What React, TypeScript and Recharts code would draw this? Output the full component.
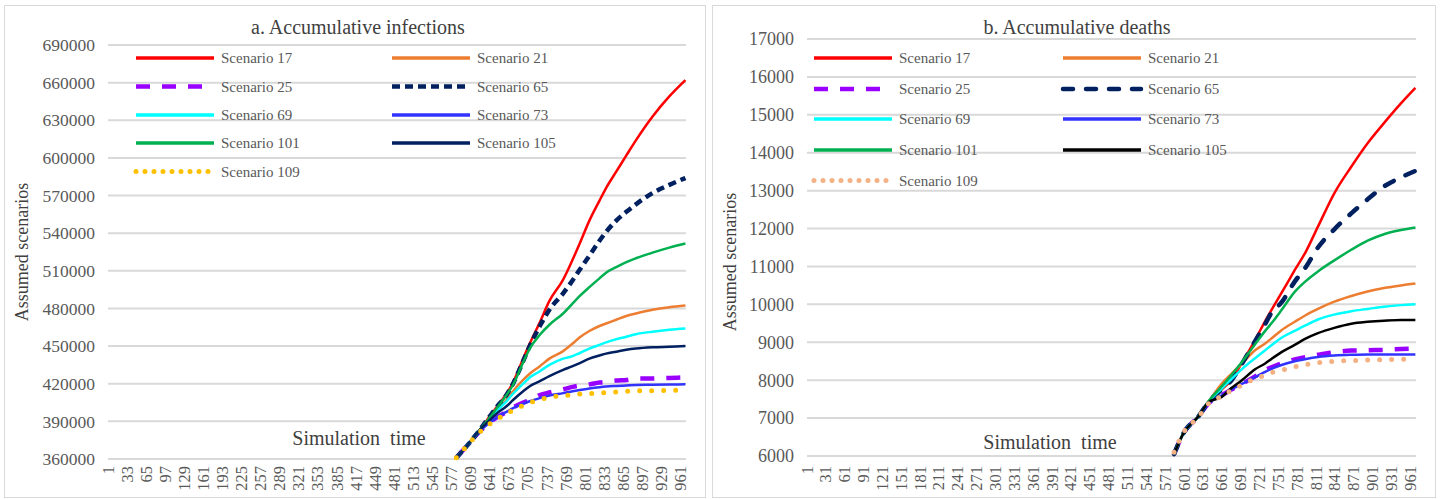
import React from 'react';
import { LineChart, Line, XAxis, YAxis, CartesianGrid } from 'recharts';

// ---------- Data: a. Accumulative infections ----------
const infTime = [585, 600, 624, 641, 652, 669, 680, 697, 708, 725, 741, 764, 780, 792, 808, 825, 836, 853, 870, 886, 914, 942, 969];
const inf17 = [361000, 369000, 383000, 394000, 401000, 412000, 421000, 440000, 452000, 469000, 486000, 503000, 519000, 532000, 550000, 566000, 576000, 589000, 602000, 614000, 633000, 649000, 662000];
const inf21 = [361000, 369000, 383000, 392000, 398000, 407000, 414000, 423000, 428000, 434000, 440000, 446000, 452000, 457000, 462000, 466000, 468000, 471000, 474000, 476000, 479000, 481000, 482300];
const inf25 = [361000, 369000, 382000, 389000, 393000, 397500, 401000, 405000, 407000, 411000, 413000, 415500, 417500, 418500, 419500, 421000, 421500, 422500, 423000, 424000, 424200, 424600, 425000];
const inf65 = [361000, 369000, 383000, 394000, 401000, 411000, 420000, 438000, 450000, 466000, 479000, 492000, 502500, 511000, 522000, 534000, 541000, 550000, 557000, 563000, 572000, 578500, 584000];
const inf69 = [361000, 369000, 383000, 392000, 398000, 406000, 412000, 420000, 425000, 430000, 435000, 440000, 442000, 444500, 448000, 451000, 453000, 455500, 457500, 459500, 461500, 463000, 464000];
const inf73 = [361000, 369000, 382000, 389000, 393000, 397500, 400500, 404000, 406000, 408500, 410500, 412500, 414000, 415000, 416200, 417200, 417700, 418200, 418600, 419000, 419200, 419400, 419500];
const inf101 = [361000, 369000, 383000, 393000, 400000, 411000, 419000, 437000, 448000, 459000, 467000, 476000, 484000, 490000, 497000, 504000, 508500, 513000, 517000, 520000, 524500, 528500, 531800];
const inf105 = [361000, 369000, 383000, 391000, 396000, 402000, 407000, 414000, 418000, 422000, 426000, 431000, 434000, 436500, 440000, 442500, 444000, 445500, 447000, 448000, 449000, 449500, 450000];
const inf109 = [361000, 369000, 381400, 388000, 391500, 396000, 399000, 402700, 405000, 407200, 409400, 410500, 411300, 411800, 412200, 412600, 413000, 413500, 414000, 414300, 414500, 414700, 414800];
const infYTicks = [360000, 390000, 420000, 450000, 480000, 510000, 540000, 570000, 600000, 630000, 660000, 690000];
const infXTicks = [1, 33, 65, 97, 129, 161, 193, 225, 257, 289, 321, 353, 385, 417, 449, 481, 513, 545, 577, 609, 641, 673, 705, 737, 769, 801, 833, 865, 897, 929, 961];

// ---------- Data: b. Accumulative deaths ----------
const detTime = [585, 600, 624, 640, 661, 677, 693, 714, 730, 740, 756, 777, 795, 814, 840, 867, 893, 919, 946, 969];
const det17 = [6050, 6600, 7050, 7420, 7760, 8020, 8460, 9060, 9560, 9850, 10300, 10900, 11400, 12050, 12930, 13630, 14250, 14780, 15300, 15710];
const det21 = [6050, 6600, 7050, 7430, 7910, 8180, 8440, 8790, 8970, 9100, 9320, 9540, 9720, 9880, 10070, 10220, 10340, 10430, 10500, 10550];
const det25 = [6050, 6600, 7050, 7390, 7600, 7760, 7900, 8100, 8270, 8340, 8440, 8550, 8610, 8670, 8740, 8780, 8790, 8800, 8820, 8830];
const det65 = [6050, 6600, 7050, 7420, 7760, 8010, 8430, 9030, 9480, 9780, 10050, 10600, 10990, 11500, 11980, 12400, 12770, 13110, 13350, 13520];
const det69 = [6050, 6600, 7050, 7430, 7780, 8040, 8290, 8580, 8790, 8920, 9120, 9300, 9450, 9600, 9730, 9820, 9880, 9940, 9980, 10000];
const det73 = [6050, 6600, 7050, 7390, 7600, 7760, 7900, 8080, 8220, 8300, 8400, 8500, 8560, 8610, 8650, 8670, 8680, 8680, 8680, 8680];
const det101 = [6050, 6600, 7050, 7450, 7840, 8150, 8480, 8950, 9300, 9500, 9850, 10330, 10620, 10870, 11160, 11440, 11680, 11850, 11960, 12030];
const det105 = [6050, 6600, 7050, 7420, 7560, 7800, 8000, 8290, 8440, 8560, 8740, 8930, 9100, 9240, 9380, 9490, 9540, 9570, 9585, 9590];
const det109 = [6100, 6620, 7030, 7380, 7580, 7740, 7870, 8040, 8130, 8200, 8260, 8350, 8410, 8460, 8500, 8515, 8530, 8540, 8550, 8555];
const detYTicks = [6000, 7000, 8000, 9000, 10000, 11000, 12000, 13000, 14000, 15000, 16000, 17000];
const detXTicks = [1, 31, 61, 91, 121, 151, 181, 211, 241, 271, 301, 331, 361, 391, 421, 451, 481, 511, 541, 571, 601, 631, 661, 691, 721, 751, 781, 811, 841, 871, 901, 931, 961];

const seriesNames = ['Scenario 17', 'Scenario 21', 'Scenario 25', 'Scenario 65', 'Scenario 69', 'Scenario 73', 'Scenario 101', 'Scenario 105', 'Scenario 109'];

type Style = { color: string; width: number; dash?: string; cap?: 'butt' | 'round' };

const infStyles: Style[] = [
  { color: '#ff0000', width: 2.5 },
  { color: '#ed7d31', width: 2.5 },
  { color: '#9900ff', width: 4.5, dash: '14 12', cap: 'butt' },
  { color: '#002060', width: 4.5, dash: '8 5', cap: 'butt' },
  { color: '#00ffff', width: 2.5 },
  { color: '#3333ff', width: 2.5 },
  { color: '#00b050', width: 2.5 },
  { color: '#002060', width: 2.5 },
  { color: '#ffc000', width: 5, dash: '0 12', cap: 'round' },
];
const detStyles: Style[] = [
  { color: '#ff0000', width: 2.5 },
  { color: '#ed7d31', width: 2.5 },
  { color: '#9900ff', width: 4.5, dash: '14 12', cap: 'butt' },
  { color: '#002060', width: 4.5, dash: '10 13', cap: 'round' },
  { color: '#00ffff', width: 2.5 },
  { color: '#3333ff', width: 2.5 },
  { color: '#00b050', width: 2.5 },
  { color: '#000000', width: 2.5 },
  { color: '#f4b183', width: 5, dash: '0 12', cap: 'round' },
];

const infValues = [inf17, inf21, inf25, inf65, inf69, inf73, inf101, inf105, inf109];
const detValues = [det17, det21, det25, det65, det69, det73, det101, det105, det109];

const buildRows = (time: number[], values: number[][]) =>
  time.map((t, i) => {
    const row: Record<string, number> = { t };
    values.forEach((vals, k) => {
      row['s' + k] = vals[i];
    });
    return row;
  });

const FONT = '"Liberation Serif", "Times New Roman", serif';

const makeXTick = (fontSize: number) => (props: any) => {
  const { x, y, payload } = props;
  return (
    <text
      x={x}
      y={y}
      transform={`rotate(-90 ${x} ${y})`}
      textAnchor="end"
      dominantBaseline="central"
      fontSize={fontSize}
      fill="#595959"
      fontFamily={FONT}
    >
      {payload.value}
    </text>
  );
};

type PanelProps = {
  left: number;
  width: number;
  margin: { top: number; right: number; bottom: number; left: number };
  xAxisHeight: number;
  xTickGap: number;
  rows: Record<string, number>[];
  styles: Style[];
  yDomain: [number, number];
  yTicks: number[];
  xTicks: number[];
  yFont: number;
};

function Panel(p: PanelProps) {
  return (
    <div style={{ position: 'absolute', left: p.left, top: 0 }}>
      <LineChart width={p.width} height={499} data={p.rows} margin={p.margin}>
        <CartesianGrid vertical={false} stroke="#d9d9d9" strokeWidth={2} />
        <XAxis
          dataKey="t"
          type="number"
          domain={[1, 970]}
          ticks={p.xTicks}
          interval={0}
          height={p.xAxisHeight}
          axisLine={false}
          tickLine={false}
          tickSize={0}
          tickMargin={p.xTickGap}
          tick={makeXTick(16.5)}
        />
        <YAxis
          type="number"
          domain={p.yDomain}
          ticks={p.yTicks}
          interval={0}
          width={100}
          axisLine={false}
          tickLine={false}
          tickSize={0}
          tickMargin={13}
          tick={{ fontSize: p.yFont, fill: '#595959', fontFamily: FONT }}
        />
        {p.styles.map((s, k) => (
          <Line
            key={k}
            dataKey={'s' + k}
            name={seriesNames[k]}
            type="monotone"
            stroke={s.color}
            strokeWidth={s.width}
            strokeDasharray={s.dash}
            strokeLinecap={s.cap || 'butt'}
            dot={false}
            activeDot={false}
            isAnimationActive={false}
          />
        ))}
      </LineChart>
    </div>
  );
}

function LegendOverlay({
  styles,
  col1Line,
  col2Line,
  rowsY,
  lineLen,
}: {
  styles: Style[];
  col1Line: number;
  col2Line: number;
  rowsY: number[];
  lineLen: number;
}) {
  return (
    <>
      {styles.map((s, k) => {
        const col = k % 2;
        const row = Math.floor(k / 2);
        const x0 = col === 0 ? col1Line : col2Line;
        const y = rowsY[row];
        return (
          <g key={k}>
            <line
              x1={x0}
              x2={x0 + lineLen}
              y1={y}
              y2={y}
              stroke={s.color}
              strokeWidth={s.width === 2.5 ? 3.5 : s.width}
              strokeDasharray={s.dash === '0 12' ? '0 9' : s.dash}
              strokeLinecap={s.cap || 'butt'}
            />
            <text x={x0 + lineLen + 7} y={y} dominantBaseline="central" fontSize={15} fill="#595959" fontFamily={FONT}>
              {seriesNames[k]}
            </text>
          </g>
        );
      })}
    </>
  );
}

export default function App() {
  const infRows = buildRows(infTime, infValues);
  const detRows = buildRows(detTime, detValues);
  return (
    <div style={{ position: 'absolute', left: 0, top: 0, width: 1440, height: 499, background: '#ffffff', fontFamily: FONT, overflow: 'hidden' }}>
      <div style={{ position: 'absolute', left: 4, top: 5, width: 700, height: 491, border: '1.5px solid #d9d9d9' }} />
      <div style={{ position: 'absolute', left: 712, top: 5, width: 722, height: 491, border: '1.5px solid #d9d9d9' }} />
      <Panel
        left={0}
        width={706}
        margin={{ top: 45, right: 20, bottom: 10, left: 8 }}
        xAxisHeight={30}
        xTickGap={7}
        rows={infRows}
        styles={infStyles}
        yDomain={[360000, 690000]}
        yTicks={infYTicks}
        xTicks={infXTicks}
        yFont={17.5}
      />
      <Panel
        left={700}
        width={740}
        margin={{ top: 39, right: 24, bottom: 10, left: 7 }}
        xAxisHeight={33}
        xTickGap={10}
        rows={detRows}
        styles={detStyles}
        yDomain={[6000, 17000]}
        yTicks={detYTicks}
        xTicks={detXTicks}
        yFont={18}
      />
      <svg width={1440} height={499} style={{ position: 'absolute', left: 0, top: 0, pointerEvents: 'none' }}>
        <text x={358} y={27} textAnchor="middle" dominantBaseline="central" fontSize={20} fill="#404040" fontFamily={FONT}>
          a. Accumulative infections
        </text>
        <text x={1077} y={27} textAnchor="middle" dominantBaseline="central" fontSize={20} fill="#404040" fontFamily={FONT}>
          b. Accumulative deaths
        </text>
        <text x={359} y={438} textAnchor="middle" dominantBaseline="central" fontSize={20} fill="#404040" fontFamily={FONT}>
          {'Simulation\u00a0\u00a0time'}
        </text>
        <text x={1050} y={442} textAnchor="middle" dominantBaseline="central" fontSize={20} fill="#404040" fontFamily={FONT}>
          {'Simulation\u00a0\u00a0time'}
        </text>
        <text x={22} y={252} textAnchor="middle" dominantBaseline="central" fontSize={18} fill="#404040" fontFamily={FONT} transform="rotate(-90 22 252)">
          Assumed scenarios
        </text>
        <text x={730} y={262} textAnchor="middle" dominantBaseline="central" fontSize={18} fill="#404040" fontFamily={FONT} transform="rotate(-90 730 262)">
          Assumed scenarios
        </text>
        <LegendOverlay styles={infStyles} col1Line={136} col2Line={392} rowsY={[58, 86.5, 115, 143, 171.5]} lineLen={78} />
        <LegendOverlay styles={detStyles} col1Line={814} col2Line={1063} rowsY={[58, 89, 119, 150, 180.5]} lineLen={78} />
      </svg>
    </div>
  );
}
